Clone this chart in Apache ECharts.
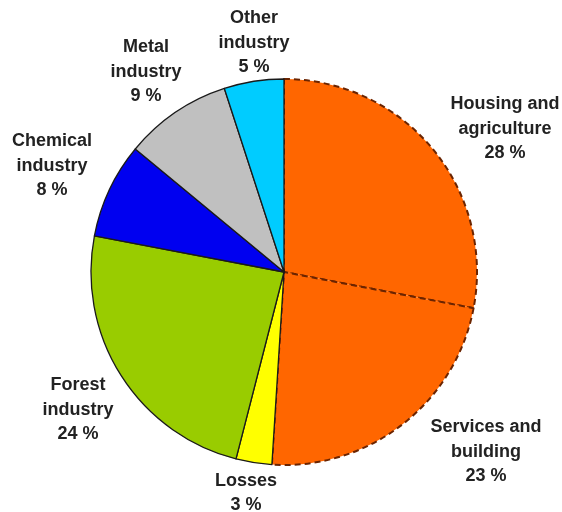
<!DOCTYPE html>
<html>
<head>
<meta charset="utf-8">
<script src="https://cdn.jsdelivr.net/npm/echarts@6/dist/echarts.min.js"></script>
<style>
  html, body { margin: 0; padding: 0; background: #ffffff; }
  #chart { width: 562px; height: 512px; }
</style>
</head>
<body>
<div id="chart"></div>
<script>
// Energy use by sector, clockwise from 12 o'clock
const sectors = [
  'Housing and\nagriculture',
  'Services and\nbuilding',
  'Losses',
  'Forest\nindustry',
  'Chemical\nindustry',
  'Metal\nindustry',
  'Other\nindustry'
];
const shares = [28, 23, 3, 24, 8, 9, 5];
const colors = ['#FF6600', '#FF6600', '#FFFF00', '#99CC00', '#0000F0', '#C0C0C0', '#00CCFF'];
// the two orange sectors share a dashed outline
const dashed = [true, true, false, false, false, false, false];

// label anchor points (centre of text block) in px
const labelPos = [
  [505, 129], [486, 452], [246, 493], [78, 410], [52, 166], [146, 72], [254, 43]
];

const chart = echarts.init(document.getElementById('chart'), null, { renderer: 'canvas' });

const data = sectors.map((name, i) => ({
  name: name,
  value: shares[i],
  itemStyle: dashed[i]
    ? { color: colors[i], borderColor: '#6b2400', borderWidth: 2, borderType: [6, 4] }
    : { color: colors[i], borderColor: '#1a1a1a', borderWidth: 1.3, borderType: 'solid' }
}));

chart.setOption({
  backgroundColor: '#ffffff',
  animation: false,
  series: [{
    type: 'pie',
    center: [284, 272],
    radius: 193,
    startAngle: 90,
    clockwise: true,
    data: data,
    label: {
      show: true,
      position: 'outside',
      formatter: p => p.name + '\n' + p.value + ' %',
      fontFamily: 'Liberation Sans, Arial, sans-serif',
      fontWeight: 'bold',
      fontSize: 18,
      lineHeight: 24.5,
      color: '#222222',
      align: 'center',
      verticalAlign: 'middle',
      overflow: 'none',
      width: 200
    },
    labelLine: { show: false },
    labelLayout: params => ({
      x: labelPos[params.dataIndex][0],
      y: labelPos[params.dataIndex][1],
      align: 'center',
      verticalAlign: 'middle',
      hideOverlap: false
    }),
    emphasis: { disabled: true }
  }]
});
</script>
</body>
</html>
